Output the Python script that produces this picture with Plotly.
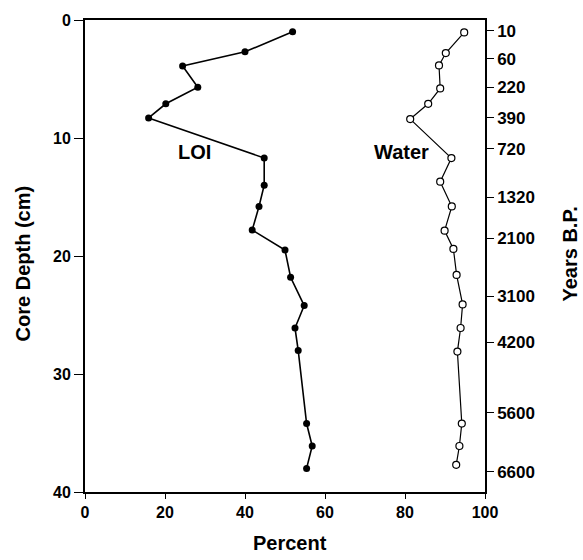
import plotly.graph_objects as go

# LOI (solid markers)
loi_depth = [1.0, 2.7, 3.9, 5.7, 7.1, 8.3, 11.7, 14.0, 15.8, 17.8, 19.5, 21.8, 24.2, 26.1, 28.0, 34.2, 36.1, 38.0]
loi_pct = [51.9, 40.0, 24.4, 28.2, 20.2, 15.9, 44.8, 44.8, 43.5, 41.8, 50.0, 51.4, 54.8, 52.5, 53.3, 55.4, 56.8, 55.4]

# Water (open markers)
water_depth = [1.05, 2.8, 3.85, 5.8, 7.1, 8.4, 11.7, 13.7, 15.8, 17.85, 19.4, 21.6, 24.1, 26.1, 28.1, 34.2, 36.1, 37.7]
water_pct = [94.8, 90.2, 88.5, 88.8, 85.8, 81.3, 91.6, 88.8, 91.7, 89.9, 92.1, 92.9, 94.4, 93.9, 93.1, 94.2, 93.6, 92.8]

# Right axis: age labels at depths
age_depth = [0.9, 3.3, 5.7, 8.3, 10.9, 15.0, 18.5, 23.4, 27.3, 33.3, 38.3]
age_labels = ["10", "60", "220", "390", "720", "1320", "2100", "3100", "4200", "5600", "6600"]

FONT = "Liberation Sans"

fig = go.Figure()
fig.add_trace(go.Scatter(
    x=loi_pct, y=loi_depth, mode="lines+markers",
    line=dict(color="black", width=1.6),
    marker=dict(symbol="circle", size=7, color="black"),
    showlegend=False, hoverinfo="skip"))
fig.add_trace(go.Scatter(
    x=water_pct, y=water_depth, mode="lines+markers",
    line=dict(color="black", width=1.2),
    marker=dict(symbol="circle", size=7, color="white", line=dict(color="black", width=1.2)),
    showlegend=False, hoverinfo="skip"))
# invisible trace to carry right axis
fig.add_trace(go.Scatter(
    x=[None], y=[None], yaxis="y2", mode="markers",
    showlegend=False, hoverinfo="skip"))

tickfont = dict(family=FONT, size=16, color="black", weight="bold")
rtickfont = dict(family=FONT, size=17, color="black", weight="bold")

fig.update_layout(
    width=583, height=560,
    margin=dict(l=85, r=98, t=14, b=68),
    paper_bgcolor="white", plot_bgcolor="white",
    xaxis=dict(range=[0, 100], tickvals=[0, 20, 40, 60, 80, 100],
               showgrid=False, zeroline=False, showline=True, linecolor="black",
               linewidth=1.5, mirror=True, ticks="outside", ticklen=5, tickwidth=1,
               tickcolor="black", tickfont=tickfont),
    yaxis=dict(range=[40, 0], tickvals=[0, 10, 20, 30, 40],
               showgrid=False, zeroline=False, showline=True, linecolor="black",
               linewidth=2, ticks="outside", ticklen=9, tickwidth=1.2,
               tickcolor="black", tickfont=tickfont),
    yaxis2=dict(range=[40, 0], overlaying="y", side="right", anchor="x",
                tickvals=age_depth, ticktext=age_labels,
                showgrid=False, zeroline=False, showline=True, linecolor="black",
                linewidth=1.5, ticks="outside", ticklen=7, tickwidth=1.2,
                tickcolor="black", tickfont=rtickfont),
)

labfont = dict(family=FONT, size=20, color="black", weight="bold")
# paper coords: x = (px-85)/400, y = (492-py)/478
common = dict(xref="paper", yref="paper", showarrow=False,
              xanchor="center", yanchor="middle", font=labfont)
fig.add_annotation(text="Core Depth (cm)", x=(23 - 85) / 400, y=(492 - 260.5) / 478,
                   textangle=-90, **common)
fig.add_annotation(text="Percent", x=(290 - 85) / 400, y=(492 - 544) / 478, **common)
fig.add_annotation(text="Years B.P.", x=(570 - 85) / 400, y=(492 - 251.5) / 478,
                   textangle=-90, **common)
fig.add_annotation(text="LOI", x=27.25, y=11.2, showarrow=False, font=labfont)
fig.add_annotation(text="Water", x=79.1, y=11.2, showarrow=False, font=labfont)

fig.write_html("out.html")
